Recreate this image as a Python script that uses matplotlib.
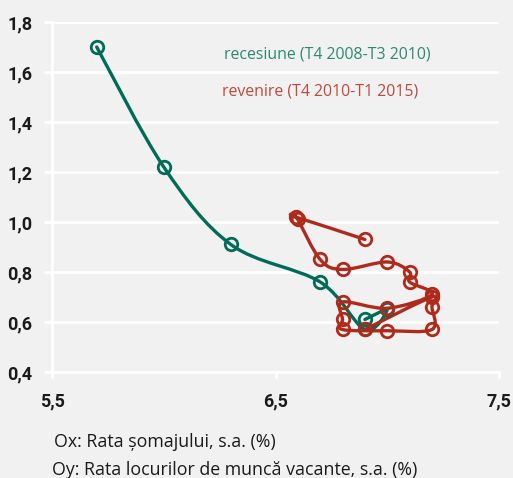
import matplotlib
matplotlib.use('Agg')
import matplotlib.pyplot as plt
from matplotlib.path import Path
from matplotlib.patches import PathPatch
from matplotlib.ticker import FuncFormatter

# recesiune (T4 2008 - T3 2010)
rec_x = [5.7, 6.0, 6.3, 6.7, 6.9, 7.0, 6.9]
rec_y = [1.70, 1.22, 0.91, 0.76, 0.57, 0.65, 0.61]

# revenire (T4 2010 - T1 2015)
rev_x = [6.9, 7.2, 7.2, 7.2, 7.0, 6.8, 6.8, 6.8, 7.0, 7.2, 7.1, 7.1, 7.0, 6.8, 6.7, 6.6, 6.59, 6.9]
rev_y = [0.57, 0.70, 0.66, 0.57, 0.565, 0.57, 0.61, 0.68, 0.655, 0.71, 0.76, 0.80, 0.84, 0.81, 0.85, 1.01, 1.02, 0.93]

rec_label = 'recesiune (T4 2008-T3 2010)'
rev_label = 'revenire (T4 2010-T1 2015)'
x_title = 'Ox: Rata șomajului, s.a. (%)'
y_title = 'Oy: Rata locurilor de muncă vacante, s.a. (%)'

green = '#006b56'
red = '#b02a1c'
bg = '#f1f1f1'


def smooth_path(xs, ys):
    # excel-like smoothed line: bezier segments with catmull-rom control points
    pts = list(zip(xs, ys))
    n = len(pts)
    verts = [pts[0]]
    codes = [Path.MOVETO]
    for i in range(n - 1):
        p0 = pts[i - 1] if i > 0 else pts[i]
        p1 = pts[i]
        p2 = pts[i + 1]
        p3 = pts[i + 2] if i + 2 < n else pts[i + 1]
        c1 = (p1[0] + (p2[0] - p0[0]) / 6, p1[1] + (p2[1] - p0[1]) / 6)
        c2 = (p2[0] - (p3[0] - p1[0]) / 6, p2[1] - (p3[1] - p1[1]) / 6)
        verts += [c1, c2, p2]
        codes += [Path.CURVE4] * 3
    return Path(verts, codes)


fig = plt.figure(figsize=(5.13, 4.78), dpi=100, facecolor=bg)
ax = fig.add_axes([0.1014, 0.2218, 0.8713, 0.7322], facecolor=bg)

for xs, ys, c in [(rec_x, rec_y, green), (rev_x, rev_y, red)]:
    ax.add_patch(PathPatch(smooth_path(xs, ys), facecolor='none', edgecolor=c,
                           lw=2.4, capstyle='round', joinstyle='round', zorder=3))
    ax.plot(xs, ys, ls='none', marker='o', ms=9, mfc='none', mec=c, mew=2.0, zorder=4)

ax.set_xlim(5.5, 7.5)
ax.set_ylim(0.4, 1.8)
ax.set_xticks([5.5, 6.5, 7.5])
ax.set_yticks([0.4, 0.6, 0.8, 1.0, 1.2, 1.4, 1.6, 1.8])
fmt = FuncFormatter(lambda v, p: ('%.1f' % v).replace('.', ','))
ax.xaxis.set_major_formatter(fmt)
ax.yaxis.set_major_formatter(fmt)
ax.grid(axis='y', color='white', lw=2)
ax.set_axisbelow(True)
for s in ['top', 'right']:
    ax.spines[s].set_visible(False)
for s in ['left', 'bottom']:
    ax.spines[s].set_color('white')
    ax.spines[s].set_linewidth(2)
ax.tick_params(axis='y', colors='white', length=6, width=2, pad=8, labelcolor='#1a1a1a', labelsize=13)
ax.tick_params(axis='x', colors='white', length=4, width=2, pad=11, labelcolor='#1a1a1a', labelsize=13)
for lab in ax.get_xticklabels() + ax.get_yticklabels():
    lab.set_family(['Liberation Sans Narrow', 'Roboto'])
    lab.set_weight('bold')

ax.text(6.27, 1.67, rec_label, color='#2a8a72', fontsize=11.4, family='Open Sans', ha='left', va='center')
ax.text(6.26, 1.52, rev_label, color='#c0483c', fontsize=11.4, family='Open Sans', ha='left', va='center')

fig.text(0.105, 0.075, x_title, fontsize=12.8, family='Open Sans', color='#1a1a1a', va='center')
fig.text(0.101, 0.017, y_title, fontsize=12.8, family='Open Sans', color='#1a1a1a', va='center')

fig.savefig('out.png', dpi=100, facecolor=bg)
